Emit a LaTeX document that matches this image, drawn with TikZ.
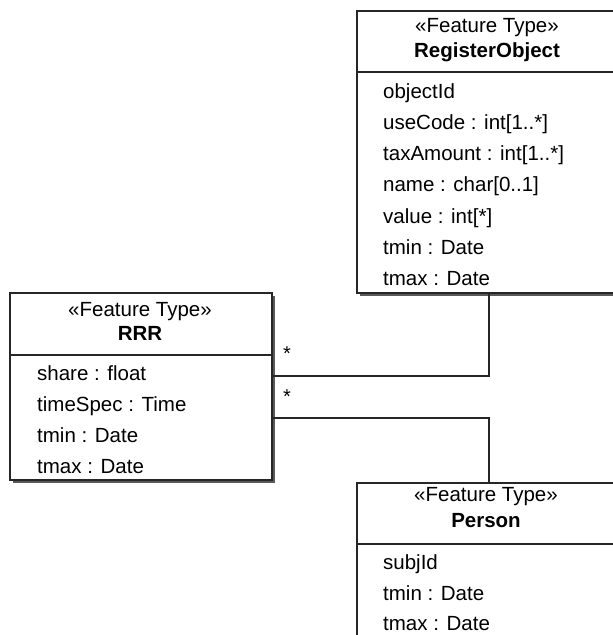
\documentclass[tikz,border=0pt]{standalone}
\usepackage{fontspec}
\setmainfont{Liberation Sans}
\usetikzlibrary{shadows}
\begin{document}
\begin{tikzpicture}[x=1pt,y=-1pt,
  classbox/.style={draw=black!85, line width=1.5pt, fill=white, anchor=north west, inner sep=0pt,
    general shadow={fill=black!65, shadow xshift=3pt, shadow yshift=-3pt}},
  attr/.style={anchor=base west, inner sep=0pt, font=\fontsize{20.5}{24}\selectfont},
  stereo/.style={anchor=base, inner sep=0pt, font=\fontsize{20.5}{24}\selectfont},
  cname/.style={anchor=base, inner sep=0pt, font=\fontsize{20.5}{24}\selectfont\bfseries},
  divider/.style={draw=black!85, line width=1.5pt},
  conn/.style={draw=black!85, line width=1.5pt},
  mult/.style={anchor=mid, inner sep=0pt, font=\fontsize{20}{22}\selectfont}]
\useasboundingbox (0,0) rectangle (613,635);
\clip (0,0) rectangle (613,635);
% RegisterObject
\node[classbox, minimum width=264pt, minimum height=282pt] (ro) at (356,10) {};
\draw[divider] (ro.west |- 0,72) -- (ro.east |- 0,72);
\node[stereo] (rost) at (487,32) {«Feature Type»};
\node[cname] (roname) at (487,57) {RegisterObject};
\node[attr] (ro1) at (383,98) {objectId};
\node[attr] (ro2) at (383,129.3) {useCode : int[1..*]};
\node[attr] (ro3) at (383,160.6) {taxAmount : int[1..*]};
\node[attr] (ro4) at (383,191.9) {name : char[0..1]};
\node[attr] (ro5) at (383,223.2) {value : int[*]};
\node[attr] (ro6) at (383,254.5) {tmin : Date};
\node[attr] (ro7) at (383,285.8) {tmax : Date};
% RRR
\node[classbox, minimum width=262pt, minimum height=187pt] (rrr) at (9,292) {};
\draw[divider] (rrr.west |- 0,355) -- (rrr.east |- 0,355);
\node[stereo] (rrrst) at (140,316) {«Feature Type»};
\node[cname] (rrrname) at (140,340) {RRR};
\node[attr] (r1) at (37,380) {share : float};
\node[attr] (r2) at (37,411) {timeSpec : Time};
\node[attr] (r3) at (37,442) {tmin : Date};
\node[attr] (r4) at (37,473) {tmax : Date};
% Person
\node[classbox, minimum width=264pt, minimum height=200pt] (pe) at (356,482) {};
\draw[divider] (pe.west |- 0,544) -- (pe.east |- 0,544);
\node[stereo] (pest) at (486,501) {«Feature Type»};
\node[cname] (pename) at (486,527) {Person};
\node[attr] (p1) at (383,569) {subjId};
\node[attr] (p2) at (383,600) {tmin : Date};
\node[attr] (p3) at (383,630) {tmax : Date};
% connectors
\draw[conn] (rrr.east |- 0,376) -| (ro.south);
\draw[conn] (rrr.east |- 0,418) -| (pe.north);
\node[mult] (m1) at (287,358) {*};
\node[mult] (m2) at (287,401) {*};
\end{tikzpicture}
\end{document}
